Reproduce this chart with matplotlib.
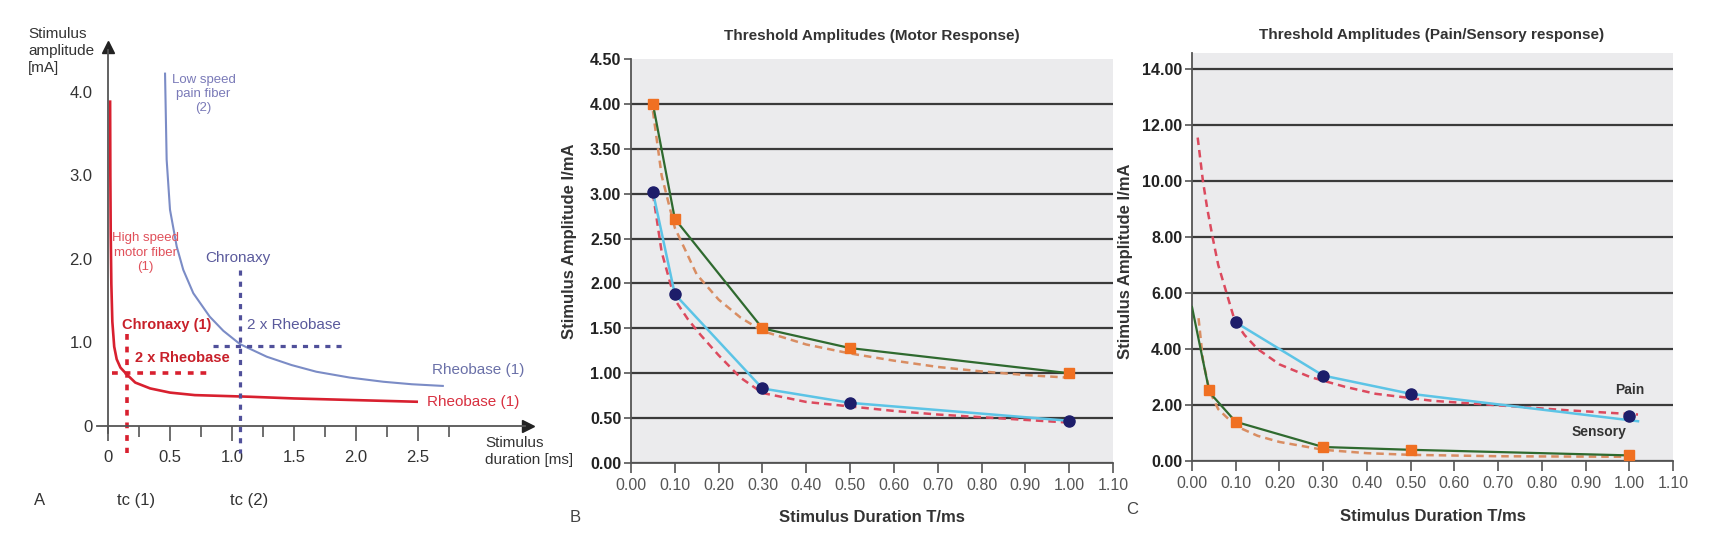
import matplotlib
matplotlib.use('Agg')
import matplotlib.pyplot as plt
from matplotlib.ticker import FixedLocator, FixedFormatter

plt.rcParams['font.family'] = ['Liberation Sans Narrow', 'Liberation Sans', 'DejaVu Sans']

# ===================== Panel A: strength-duration curves =====================
# high speed motor fiber (1)
motor_t = [0.017, 0.019, 0.022, 0.027, 0.035, 0.05, 0.07, 0.10, 0.15, 0.22, 0.34, 0.50, 0.70, 1.15, 1.5, 2.0, 2.50]
motor_i = [3.90, 3.00, 2.30, 1.70, 1.25, 0.95, 0.80, 0.70, 0.62, 0.52, 0.45, 0.40, 0.37, 0.35, 0.33, 0.31, 0.29]
# low speed pain fiber (2)
pain_t = [0.46, 0.473, 0.50, 0.554, 0.607, 0.688, 0.82, 0.93, 1.065, 1.28, 1.48, 1.68, 1.95, 2.22, 2.45, 2.70]
pain_i = [4.22, 3.19, 2.59, 2.15, 1.87, 1.59, 1.31, 1.14, 0.98, 0.83, 0.73, 0.65, 0.58, 0.53, 0.50, 0.48]
motor_chronaxy = 0.15
motor_2rh = 0.63
pain_chronaxy = 1.065
pain_2rh = 0.96
a_xticks = [0.0, 0.5, 1.0, 1.5, 2.0, 2.5]
a_xtick_labels = ['0', '0.5', '1.0', '1.5', '2.0', '2.5']
a_xminor = [0.25, 0.75, 1.25, 1.75, 2.25, 2.75]
a_yticks = [0.0, 1.0, 2.0, 3.0, 4.0]
a_ytick_labels = ['0', '1.0', '2.0', '3.0', '4.0']

# ===================== Panel B: motor response =====================
b_t = [0.05, 0.10, 0.30, 0.50, 1.00]
b_sq = [4.00, 2.72, 1.50, 1.28, 1.00]
b_ci = [3.02, 1.88, 0.83, 0.67, 0.47]
b_fit_sq_t = [0.05, 0.07, 0.10, 0.15, 0.20, 0.25, 0.30, 0.40, 0.50, 0.60, 0.70, 0.80, 0.90, 1.00]
b_fit_sq = [3.92, 3.20, 2.62, 2.10, 1.82, 1.62, 1.47, 1.32, 1.22, 1.14, 1.07, 1.02, 0.98, 0.95]
b_fit_ci_t = [0.05, 0.07, 0.10, 0.13, 0.16, 0.20, 0.25, 0.30, 0.40, 0.50, 0.60, 0.70, 0.80, 0.90, 1.00]
b_fit_ci = [3.00, 2.35, 1.82, 1.60, 1.42, 1.20, 0.95, 0.78, 0.68, 0.63, 0.58, 0.54, 0.51, 0.48, 0.45]
b_yticks = [0.0, 0.5, 1.0, 1.5, 2.0, 2.5, 3.0, 3.5, 4.0, 4.5]

# ===================== Panel C: pain / sensory response =====================
c_pain_t = [0.10, 0.30, 0.50, 1.00]
c_pain = [4.95, 3.05, 2.40, 1.60]
c_pain_line_t = [0.10, 0.30, 0.50, 1.02]
c_pain_line = [4.95, 3.05, 2.40, 1.42]
c_pain_fit_t = [0.013, 0.025, 0.035, 0.047, 0.06, 0.079, 0.098, 0.12, 0.15, 0.20, 0.27, 0.35, 0.42, 0.55, 0.69, 0.85, 1.02]
c_pain_fit = [11.55, 10.0, 9.0, 8.0, 7.0, 6.0, 5.0, 4.5, 4.0, 3.45, 3.0, 2.65, 2.4, 2.15, 2.0, 1.82, 1.66]
c_sens_t = [0.04, 0.10, 0.30, 0.50, 1.00]
c_sens = [2.55, 1.38, 0.50, 0.38, 0.22]
c_sens_line_t = [0.0, 0.04, 0.10, 0.30, 0.50, 1.00]
c_sens_line = [5.5, 2.45, 1.40, 0.50, 0.40, 0.20]
c_sens_fit_t = [0.015, 0.025, 0.04, 0.06, 0.10, 0.15, 0.20, 0.30, 0.40, 0.50, 0.70, 1.00]
c_sens_fit = [5.1, 3.6, 2.5, 1.85, 1.25, 0.90, 0.68, 0.40, 0.28, 0.22, 0.17, 0.15]
c_yticks = [0, 2, 4, 6, 8, 10, 12, 14]

x_ticks_bc = [0.0, 0.1, 0.2, 0.3, 0.4, 0.5, 0.6, 0.7, 0.8, 0.9, 1.0, 1.1]

# colours
RED = '#d8202f'
BLUE = '#7b8cc6'
ORANGE = '#f07022'
GREEN = '#2f6a2f'
NAVY = '#1d1d6a'
CYAN = '#5cc4e6'
RED_DASH = '#dc4a5e'
ORANGE_DASH = '#d98d62'

W, H = 1715, 545
fig = plt.figure(figsize=(W / 100, H / 100), dpi=100)


def px_axes(left, top, right, bottom):
    return fig.add_axes([left / W, 1 - bottom / H, (right - left) / W, (bottom - top) / H])


# ---------------- Panel A ----------------
ax = px_axes(89.4, 41.9, 529.6, 476.1)
ax.set_xlim(-0.15, 3.4)
ax.set_ylim(-0.6, 4.6)
for s in ['top', 'right']:
    ax.spines[s].set_visible(False)
ax.spines['left'].set_position(('data', 0))
ax.spines['bottom'].set_position(('data', 0))
ax.spines['left'].set_bounds(-0.08, 4.5)
ax.spines['bottom'].set_bounds(-0.09, 3.36)
for s in ['left', 'bottom']:
    ax.spines[s].set_color('#555555')
    ax.spines[s].set_linewidth(1.3)
ax.plot([3.39], [0], marker='>', color='#222222', markersize=8, clip_on=False)
ax.plot([0], [4.54], marker='^', color='#222222', markersize=8, clip_on=False)

ax.xaxis.set_major_locator(FixedLocator(a_xticks))
ax.xaxis.set_major_formatter(FixedFormatter(a_xtick_labels))
ax.xaxis.set_minor_locator(FixedLocator(a_xminor))
ax.yaxis.set_major_locator(FixedLocator(a_yticks))
ax.yaxis.set_major_formatter(FixedFormatter(a_ytick_labels))
ax.tick_params(axis='x', which='major', direction='out', length=11, width=1.2, color='#555555',
               labelsize=12, labelcolor='#333333', pad=6)
ax.tick_params(axis='x', which='minor', direction='out', length=8, width=1.2, color='#555555')
ax.tick_params(axis='y', length=0, labelsize=12, labelcolor='#333333', pad=11)

ax.plot(motor_t, motor_i, color=RED, lw=1.9, solid_capstyle='butt', solid_joinstyle='round')
ax.plot(pain_t, pain_i, color=BLUE, lw=1.5, solid_joinstyle='round')

dash = (0, (1.6, 1.9))
ax.plot([motor_chronaxy, motor_chronaxy], [1.1, -0.32], color=RED, lw=2.6, linestyle=dash, clip_on=False)
ax.plot([0.03, 0.80], [motor_2rh, motor_2rh], color=RED, lw=2.6, linestyle=dash)
ax.plot([pain_chronaxy, pain_chronaxy], [1.87, -0.32], color='#50509a', lw=2.3, linestyle=dash, clip_on=False)
ax.plot([0.85, 1.92], [pain_2rh, pain_2rh], color='#50509a', lw=2.3, linestyle=dash)

ax.text(-0.645, 4.78, 'Stimulus\namplitude\n[mA]', ha='left', va='top', fontsize=11,
        color='#333333', linespacing=1.3)
ax.text(3.04, -0.12, 'Stimulus\nduration [ms]', ha='left', va='top', fontsize=11,
        color='#333333', linespacing=1.3)
ax.text(-0.60, -0.89, 'A', ha='left', va='center', fontsize=12, color='#333333')
ax.text(0.23, -0.89, 'tc (1)', ha='center', va='center', fontsize=12, color='#333333')
ax.text(1.14, -0.89, 'tc (2)', ha='center', va='center', fontsize=12, color='#333333')

ax.text(0.77, 4.22, 'Low speed\npain fiber\n(2)', ha='center', va='top', fontsize=9.5,
        color='#7a7ab8', linespacing=1.25)
ax.text(0.30, 2.32, 'High speed\nmotor fiber\n(1)', ha='center', va='top', fontsize=9.5,
        color='#e0505a', linespacing=1.25)
ax.text(1.05, 2.01, 'Chronaxy', ha='center', va='center', fontsize=11, color='#5a5a9c')
ax.text(1.12, 1.21, '2 x Rheobase', ha='left', va='center', fontsize=11, color='#5a5a9c')
ax.text(0.11, 1.21, 'Chronaxy (1)', ha='left', va='center', fontsize=10.5, color='#c8202a',
        fontweight='bold')
ax.text(0.22, 0.81, '2 x Rheobase', ha='left', va='center', fontsize=10.5, color='#c8202a',
        fontweight='bold')
ax.text(2.61, 0.67, 'Rheobase (1)', ha='left', va='center', fontsize=11, color='#6a70a8')
ax.text(2.57, 0.29, 'Rheobase (1)', ha='left', va='center', fontsize=11, color='#d83040')


# ---------------- Panels B and C ----------------
def style_panel(ax, ymax, yticks, yfmt):
    ax.set_facecolor('#ebebed')
    ax.set_xlim(0, 1.1)
    ax.set_ylim(0, ymax)
    for s in ['top', 'right']:
        ax.spines[s].set_visible(False)
    for s in ['left', 'bottom']:
        ax.spines[s].set_color('#555555')
        ax.spines[s].set_linewidth(1.3)
    ax.xaxis.set_major_locator(FixedLocator(x_ticks_bc))
    ax.xaxis.set_major_formatter(FixedFormatter(['%.2f' % v for v in x_ticks_bc]))
    ax.yaxis.set_major_locator(FixedLocator(yticks))
    ax.yaxis.set_major_formatter(FixedFormatter([yfmt % v for v in yticks]))
    ax.tick_params(axis='x', direction='out', length=7, width=1.2, color='#555555',
                   labelsize=11.5, labelcolor='#555555', pad=4)
    ax.tick_params(axis='y', direction='out', length=5, width=1.2, color='#555555',
                   labelsize=11.5, labelcolor='#222222', pad=2)
    for lab in ax.get_yticklabels():
        lab.set_fontweight('bold')
    ax.set_axisbelow(True)
    ax.yaxis.grid(True, color='#3a3a3a', lw=1.6)
    ax.xaxis.grid(False)


axb = px_axes(631, 59, 1113, 463)
style_panel(axb, 4.5, b_yticks, '%.2f')
axb.get_ygridlines()[-1].set_visible(False)
axb.plot(b_fit_sq_t, b_fit_sq, color=ORANGE_DASH, lw=1.8, linestyle=(0, (3, 2)), zorder=3)
axb.plot(b_fit_ci_t, b_fit_ci, color=RED_DASH, lw=1.8, linestyle=(0, (3, 2)), zorder=3)
axb.plot(b_t, b_sq, color=GREEN, lw=1.6, zorder=4)
axb.plot(b_t, b_ci, color=CYAN, lw=1.8, zorder=4)
axb.plot(b_t, b_sq, linestyle='none', marker='s', markersize=7.5, color=ORANGE, zorder=5)
axb.plot(b_t, b_ci, linestyle='none', marker='o', markersize=8, color=NAVY, zorder=5)
axb.set_ylabel('Stimulus Amplitude I/mA', fontsize=12, fontweight='bold', color='#333333')
axb.yaxis.set_label_coords(-0.112, 0.55)
axb.set_xlabel('Stimulus Duration T/ms', fontsize=12, fontweight='bold', color='#333333')
axb.xaxis.set_label_coords(0.5, -0.134)
axb.xaxis.label.set_va('center')
fig.text(872 / W, 1 - 36 / H, 'Threshold Amplitudes (Motor Response)', ha='center', va='center',
         fontsize=11, fontweight='bold', color='#333333')
fig.text(575 / W, 1 - 517 / H, 'B', ha='center', va='center', fontsize=12, color='#444444')

axc = px_axes(1192, 53, 1673, 461)
style_panel(axc, 14.57, c_yticks, '%.2f')
axc.plot(c_pain_fit_t, c_pain_fit, color=RED_DASH, lw=1.8, linestyle=(0, (3, 2)), zorder=3)
axc.plot(c_sens_fit_t, c_sens_fit, color=ORANGE_DASH, lw=1.8, linestyle=(0, (3, 2)), zorder=3)
axc.plot(c_pain_line_t, c_pain_line, color=CYAN, lw=1.8, zorder=4)
axc.plot(c_sens_line_t, c_sens_line, color=GREEN, lw=1.6, zorder=4)
axc.plot(c_pain_t, c_pain, linestyle='none', marker='o', markersize=8, color=NAVY, zorder=5)
axc.plot(c_sens_t, c_sens, linestyle='none', marker='s', markersize=7.5, color=ORANGE, zorder=5)
axc.text(1.0, 2.55, 'Pain', ha='center', va='center', fontsize=10, fontweight='bold', color='#333333')
axc.text(0.93, 1.04, 'Sensory', ha='center', va='center', fontsize=10, fontweight='bold', color='#333333')
axc.set_ylabel('Stimulus Amplitude I/mA', fontsize=12, fontweight='bold', color='#333333')
axc.yaxis.set_label_coords(-0.122, 0.49)
axc.set_xlabel('Stimulus Duration T/ms', fontsize=12, fontweight='bold', color='#333333')
axc.xaxis.set_label_coords(0.5, -0.135)
axc.xaxis.label.set_va('center')
fig.text(1432 / W, 1 - 35 / H, 'Threshold Amplitudes (Pain/Sensory response)', ha='center',
         va='center', fontsize=11, fontweight='bold', color='#333333')
fig.text(1132 / W, 1 - 510 / H, 'C', ha='center', va='center', fontsize=12, color='#444444')

fig.savefig('out.png', dpi=100, facecolor='white')
